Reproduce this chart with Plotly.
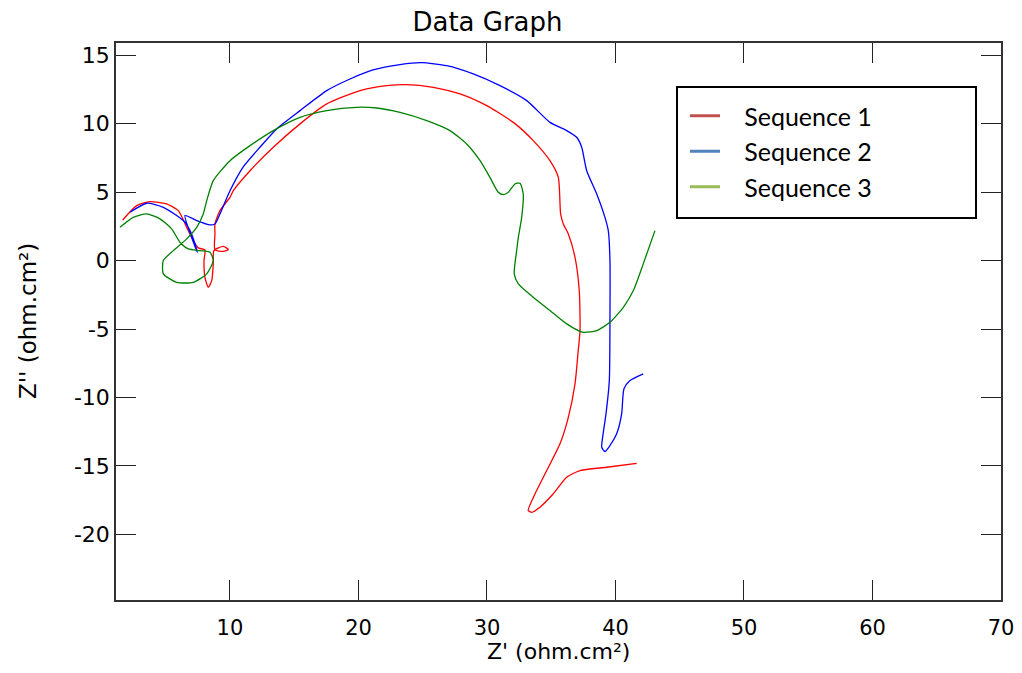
import plotly.graph_objects as go

# Sequence 1 (red)
seq1_x = [1.65, 2.74, 3.77, 5.07, 5.98, 6.63, 7.14, 7.53, 8.05, 7.98, 8.05, 8.31, 8.58, 8.70, 8.75,
          9.48, 9.87, 9.48, 8.83, 8.83, 8.83, 9.22, 10.0, 10.26, 11.56, 13.37, 15.45, 17.53, 20.12,
          22.19, 23.75, 25.82, 27.90, 29.98, 32.05, 33.60, 34.90, 35.55, 35.73, 35.94, 36.33, 36.85,
          37.18, 37.24, 37.10, 36.85, 36.33, 35.68, 34.65, 33.74, 33.21, 33.48, 34.12, 35.16, 36.20,
          37.24, 39.31, 41.65]
seq1_y = [2.97, 4.02, 4.31, 4.14, 3.65, 2.43, 1.46, 0.93, 0.78, 0.0, -1.22, -1.95, -1.46, -0.24, 0.73,
          1.04, 0.80, 0.68, 0.78, 1.95, 2.68, 3.65, 4.62, 5.11, 6.57, 8.28, 9.99, 11.45, 12.42,
          12.78, 12.86, 12.66, 12.18, 11.32, 10.10, 8.77, 7.30, 6.08, 3.41, 2.68, 1.95, 0.24,
          -2.19, -5.11, -6.57, -9.01, -11.45, -13.39, -15.34, -17.04, -18.26, -18.39, -18.02, -17.04, -15.83,
          -15.34, -15.10, -14.81]

# Sequence 2 (blue)
seq2_x = [2.22, 3.52, 4.81, 5.85, 6.50, 6.89, 7.28, 7.46, 7.02, 6.50, 7.41, 8.44, 8.83, 9.22, 10.0,
          11.01, 12.33, 13.63, 15.45, 17.53, 19.34, 21.13, 23.23, 24.92, 26.86, 28.93, 31.01, 33.09,
          34.90, 36.20, 36.98, 37.37, 37.76, 38.54, 39.18, 39.44, 39.57, 39.57, 39.52, 39.26, 39.00,
          38.93, 39.18, 39.57, 40.09, 40.48, 40.66, 41.13, 42.16]
seq2_y = [3.53, 4.19, 3.89, 3.29, 2.80, 2.19, 1.22, 0.61, 1.70, 3.29, 2.92, 2.61, 2.68, 3.41, 5.11,
          6.82, 8.28, 9.62, 10.96, 12.42, 13.27, 13.93, 14.32, 14.46, 14.24, 13.64, 12.78, 11.69,
          10.10, 9.50, 9.01, 8.28, 6.57, 4.87, 3.16, 2.19, 0.0, -4.14, -8.77, -11.20, -12.91,
          -13.64, -13.95, -13.51, -12.66, -11.20, -9.37, -8.77, -8.28]

# Sequence 3 (green)
seq3_x = [1.44, 2.47, 3.52, 4.55, 5.46, 6.11, 6.75, 7.67, 8.44, 8.70, 8.19, 7.14, 5.85, 4.81, 4.81,
          5.59, 6.63, 7.41, 7.92, 8.19, 8.70, 10.0, 11.56, 13.37, 15.45, 17.53, 19.86, 21.42, 23.23,
          25.31, 27.12, 28.42, 29.46, 30.23, 30.88, 31.27, 31.66, 32.18, 32.57, 32.82, 32.70, 32.44,
          32.31, 32.12, 32.44, 33.60, 34.90, 36.20, 37.49, 38.54, 39.57, 40.61, 41.39, 42.16, 43.07]
seq3_y = [2.43, 3.16, 3.41, 3.05, 2.32, 1.34, 0.85, 0.73, 0.61, 0.0, -0.97, -1.59, -1.59, -0.97, 0.0,
          0.73, 1.59, 2.43, 3.41, 4.38, 5.84, 7.30, 8.40, 9.50, 10.47, 10.96, 11.20, 11.15, 10.83,
          10.23, 9.50, 8.52, 7.30, 6.08, 4.99, 4.82, 4.99, 5.60, 5.65, 4.87, 3.16, 1.70,
          0.73, -0.97, -1.70, -2.68, -3.65, -4.62, -5.24, -5.11, -4.51, -3.41, -2.19, -0.24, 2.19]

series_names = ["Sequence 1", "Sequence 2", "Sequence 3"]
line_colors = ["#FF0000", "#0000FF", "#008000"]
legend_colors = ["#C0504D", "#4F81BD", "#9BBB59"]

x_ticks = [10, 20, 30, 40, 50, 60, 70]
x_ticktext = ["10", "20", "30", "40", "50", "60", "70"]
y_ticks = [-20, -15, -10, -5, 0, 5, 10, 15]
y_ticktext = ["-20", "-15", "-10", "-5", "0", "5", "10", "15"]

# the page body adds an 8px margin; layout below is expressed in window pixels
OFF = 8
W, H = 1022 - 2 * OFF, 673 - 2 * OFF
PL, PR, PT, PB = 116, 1001, 43, 600   # plot area in window pixels
PW, PH = PR - PL, PB - PT


def px_x(x):
    return (x - PL) / PW


def px_y(y):
    return 1 - (y - PT) / PH


fig = go.Figure()
for xs, ys, c in zip([seq1_x, seq2_x, seq3_x], [seq1_y, seq2_y, seq3_y], line_colors):
    fig.add_trace(go.Scatter(x=xs, y=ys, mode="lines", showlegend=False,
                             line=dict(color=c, width=1.3, shape="spline", smoothing=0.6),
                             hoverinfo="skip"))
# legend entries (Excel-style colours)
for name, c in zip(series_names, legend_colors):
    fig.add_trace(go.Scatter(x=[None], y=[None], mode="lines", name="\u00a0\u00a0\u00a0" + name,
                             line=dict(color=c, width=3)))

axis_common = dict(showgrid=False, zeroline=False, showline=True, mirror="ticks",
                   linecolor="#333333", linewidth=1.5, ticks="inside", ticklen=20,
                   tickcolor="#222222", tickwidth=1, automargin=False,
                   ticklabeloverflow="allow")

fig.update_layout(
    width=W, height=H,
    margin=dict(l=PL - OFF, r=W - (PR - OFF), t=PT - OFF, b=H - (PB - OFF), autoexpand=False),
    paper_bgcolor="white", plot_bgcolor="white",
    xaxis=dict(range=[1.13, 70], tickvals=x_ticks, ticktext=x_ticktext,
               tickfont=dict(family="DejaVu Sans", size=21, color="black"),
               ticklabelstandoff=8, **axis_common),
    yaxis=dict(range=[-24.8, 15.9], tickvals=y_ticks, ticktext=y_ticktext,
               tickfont=dict(family="DejaVu Sans", size=22, color="black"),
               ticklabelstandoff=0, **axis_common),
    title=dict(text="Data Graph", x=px_x(487.5), xref="paper", xanchor="center",
               y=1 - (22 - OFF) / H, yref="container", yanchor="middle",
               font=dict(family="DejaVu Sans", size=26, color="black")),
    legend=dict(x=px_x(685), y=px_y(93), xanchor="left", yanchor="top",
                bgcolor="rgba(0,0,0,0)", borderwidth=0,
                font=dict(family="Lato", size=25, color="black"),
                itemwidth=30, tracegroupgap=0),
    shapes=[dict(type="rect", xref="paper", yref="paper",
                 x0=px_x(677), x1=px_x(976), y0=px_y(218), y1=px_y(87),
                 line=dict(color="black", width=2), fillcolor="white", layer="above")],
    annotations=[
        dict(text="Z' (ohm.cm²)", xref="paper", yref="paper", x=0.5, y=px_y(651),
             xanchor="center", yanchor="middle", showarrow=False,
             font=dict(family="DejaVu Sans", size=22, color="black")),
        dict(text="Z'' (ohm.cm²)", xref="paper", yref="paper", x=px_x(27.5), y=0.5,
             xanchor="center", yanchor="middle", showarrow=False, textangle=-90,
             font=dict(family="DejaVu Sans", size=23, color="black")),
    ],
)

fig.write_html("out.html")
